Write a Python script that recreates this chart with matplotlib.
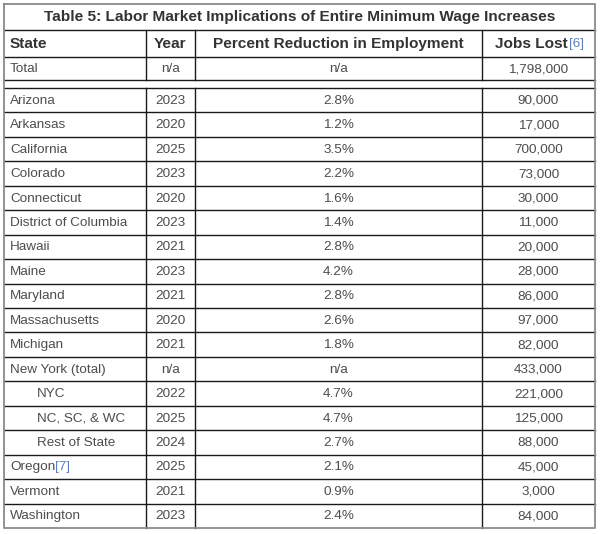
import matplotlib.pyplot as plt

plt.rcParams['font.family'] = ['Liberation Sans', 'DejaVu Sans']

title = 'Table 5: Labor Market Implications of Entire Minimum Wage Increases'
headers = ['State', 'Year', 'Percent Reduction in Employment', 'Jobs Lost']

total_row = ['Total', 'n/a', 'n/a', '1,798,000']

states = ['Arizona', 'Arkansas', 'California', 'Colorado', 'Connecticut',
          'District of Columbia', 'Hawaii', 'Maine', 'Maryland', 'Massachusetts',
          'Michigan', 'New York (total)', 'NYC', 'NC, SC, & WC', 'Rest of State',
          'Oregon', 'Vermont', 'Washington']
years = ['2023', '2020', '2025', '2023', '2020', '2023', '2021', '2023', '2021',
         '2020', '2021', 'n/a', '2022', '2025', '2024', '2025', '2021', '2023']
pcts = ['2.8%', '1.2%', '3.5%', '2.2%', '1.6%', '1.4%', '2.8%', '4.2%', '2.8%',
        '2.6%', '1.8%', 'n/a', '4.7%', '4.7%', '2.7%', '2.1%', '0.9%', '2.4%']
jobs = ['90,000', '17,000', '700,000', '73,000', '30,000', '11,000', '20,000',
        '28,000', '86,000', '97,000', '82,000', '433,000', '221,000', '125,000',
        '88,000', '45,000', '3,000', '84,000']
indented = ['NYC', 'NC, SC, & WC', 'Rest of State']
notes = {'Oregon': '[7]'}

# layout in pixels
W, H = 600, 534
left, right = 3.5, 595
cols = [left, 146, 195, 482, right]
y_top, y_title, y_head, y_total, y_gap = 3.5, 30, 57, 80, 88
y_bottom = 528
row_h = (y_bottom - y_gap) / len(states)

text_c = '#4d4d4d'
head_c = '#333333'
link_c = '#5b7fbf'
fs_body = 9.7
fs_head = 11.1

fig = plt.figure(figsize=(W / 100, H / 100), dpi=100)
ax = fig.add_axes([0, 0, 1, 1])
ax.set_xlim(0, W)
ax.set_ylim(H, 0)
ax.axis('off')

line_c = '#1a1a1a'
lw = 1.0
# horizontal lines
for y in [y_title, y_head, y_total, y_gap]:
    ax.plot([left, right], [y, y], color=line_c, lw=lw)
for i in range(1, len(states)):
    y = y_gap + i * row_h
    ax.plot([left, right], [y, y], color=line_c, lw=lw)
# vertical inner lines
for x in cols[1:-1]:
    ax.plot([x, x], [y_title, y_total], color=line_c, lw=lw)
    ax.plot([x, x], [y_gap, y_bottom], color=line_c, lw=lw)
# outer border
ax.plot([left, right, right, left, left], [y_top, y_top, y_bottom, y_bottom, y_top],
        color='#8a8a8a', lw=1.3)

# title
ax.text((left + right) / 2, (y_top + y_title) / 2 + 0.5, title, ha='center', va='center',
        fontsize=fs_head, fontweight='bold', color=head_c)

centers = [(cols[i] + cols[i + 1]) / 2 for i in range(4)]


def row_text(y, vals, weight='normal', color=text_c, fs=fs_body, indent=False):
    x0 = 37 if indent else 10
    t0 = ax.text(x0, y, vals[0], ha='left', va='center', fontsize=fs,
                 fontweight=weight, color=color)
    for i in range(1, 4):
        ax.text(centers[i], y, vals[i], ha='center', va='center', fontsize=fs,
                fontweight=weight, color=color)
    return t0


# header
yh = (y_title + y_head) / 2 + 0.5
ax.text(10, yh, headers[0], ha='left', va='center', fontsize=fs_head,
        fontweight='bold', color=head_c)
ax.text(centers[1], yh, headers[1], ha='center', va='center', fontsize=fs_head,
        fontweight='bold', color=head_c)
ax.text(centers[2], yh, headers[2], ha='center', va='center', fontsize=fs_head,
        fontweight='bold', color=head_c)
tj = ax.text(centers[3] - 7, yh, headers[3], ha='center', va='center',
             fontsize=fs_head, fontweight='bold', color=head_c)
ax.annotate('[6]', xy=(1, 0.5), xycoords=tj, xytext=(0.5, 0), textcoords='offset points',
            ha='left', va='center', fontsize=fs_body, color=link_c)

# total
row_text((y_head + y_total) / 2 + 0.5, total_row)

for i, s in enumerate(states):
    y = y_gap + (i + 0.5) * row_h + 0.5
    t = row_text(y, [s, years[i], pcts[i], jobs[i]], indent=s in indented)
    if s in notes:
        ax.annotate(notes[s], xy=(1, 0.5), xycoords=t, xytext=(0, 0),
                    textcoords='offset points', ha='left', va='center',
                    fontsize=fs_body, color=link_c)

fig.savefig('out.png', dpi=100, facecolor='white')
